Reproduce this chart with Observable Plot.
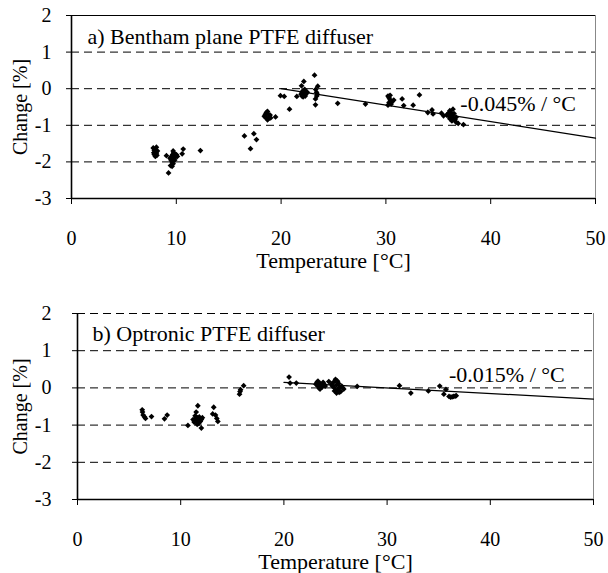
<!DOCTYPE html>
<html><head><meta charset="utf-8">
<script src="https://cdn.jsdelivr.net/npm/d3@7"></script>
<script src="https://cdn.jsdelivr.net/npm/@observablehq/plot@0.6"></script>
<style>body{margin:0;background:#fff}#chart{width:608px}#chart svg{display:block}</style>
</head><body><div id="chart"></div>
<script>
const xTicks = [0, 10, 20, 30, 40, 50];
const yTicks = [-3, -2, -1, 0, 1, 2];
const gridValues = [-2, -1, 0, 1];
const xLabel = "Temperature [°C]";
const yLabel = "Change [%]";
const titleA = "a) Bentham plane PTFE diffuser";
const titleB = "b) Optronic PTFE diffuser";
const slopeA = "-0.045% / °C";
const slopeB = "-0.015% / °C";

const tempA = [7.8,7.9,8.0,8.1,7.9,8.0,8.2,8.1,7.85,8.05,8.15, 9.06,9.26,
  9.4,9.5,9.6,9.7,9.55,9.65,9.75,9.8,9.9,10.0,9.45,9.6,9.7,9.85,10.1,
  10.56,10.66,12.3, 16.5,17.08,17.4,17.65,
  18.5,18.6,18.7,18.8,18.9,18.6,18.7,18.5,18.8,18.95,18.4,19.0,
  19.47,19.94,20.3,20.8,21.5,21.95,22.17,
  21.9,22.0,22.1,22.2,22.3,22.4,22.1,22.25,22.0,22.35,22.5,
  23.19,23.5,23.38,23.28,23.28,23.4,23.3,23.45,25.4,28.05,
  30.2,30.3,30.4,30.3,30.5,30.2,30.4,30.6,
  30.75,31.55,31.7,32.6,33.2,34.0,34.4,34.5,35.3,35.5,
  35.9,36.0,36.1,36.2,36.3,36.4,36.1,36.5,36.6,36.3,36.0,36.2,36.7,35.8,36.4,
  36.9,37.4,36.7];
const changeA = [-1.62,-1.68,-1.72,-1.76,-1.80,-1.85,-1.70,-1.60,-1.75,-1.78,-1.82, -1.83,-2.3,
  -1.9,-1.95,-2.0,-2.05,-1.85,-1.8,-1.75,-1.9,-1.85,-1.8,-2.1,-2.12,-1.7,-1.95,-1.85,
  -1.78,-1.65,-1.69, -1.29,-1.64,-1.23,-1.39,
  -0.7,-0.65,-0.62,-0.7,-0.78,-0.8,-0.85,-0.78,-0.82,-0.72,-0.75,-0.8,
  -0.77,-0.19,-0.21,-0.56,-0.21,0.08,0.2,
  -0.15,-0.1,-0.05,-0.12,-0.2,-0.08,-0.22,-0.02,-0.2,-0.15,-0.1,
  0.37,0.07,-0.1,-0.28,-0.44,-0.2,-0.02,-0.15,-0.4,-0.42,
  -0.2,-0.25,-0.3,-0.38,-0.42,-0.45,-0.18,-0.35,
  -0.31,-0.28,-0.46,-0.45,-0.17,-0.65,-0.58,-0.69,-0.67,-0.74,
  -0.7,-0.75,-0.6,-0.65,-0.72,-0.8,-0.82,-0.68,-0.85,-0.88,-0.66,-0.78,-0.78,-0.72,-0.56,
  -0.95,-0.98,-0.92];

const tempB = [6.27,6.3,6.36,6.5,6.59,7.17,8.43,8.69,10.7,
  11.66,11.5,11.4,11.6,11.7,11.5,11.8,11.9,11.3,11.6,12.0,12.1,11.45,11.75,12.0,11.2,
  13.2,13.37,13.5,13.6,13.1, 15.7,15.75,15.8,16.1, 20.5,20.6,21.2,
  23.1,23.2,23.3,23.4,23.5,23.6,23.7,23.8,23.3,23.9,24.0,23.5,24.35,
  24.6,24.7,24.8,24.9,25.0,25.1,25.2,25.3,25.4,25.5,25.6,25.0,25.2,24.9,25.35,25.7,25.8,25.1,
  27.1,31.2,32.3,34.0,35.1,35.7,35.5,
  36.0,36.15,36.3,36.45,36.6,36.7];
const changeB = [-0.59,-0.65,-0.73,-0.78,-0.82,-0.77,-0.83,-0.73,-1.01,
  -0.48,-0.65,-0.75,-0.8,-0.85,-0.9,-0.78,-0.9,-0.92,-0.98,-0.85,-0.8,-0.82,-0.95,-1.08,-0.85,
  -0.52,-0.73,-0.82,-0.9,-0.7, -0.17,-0.1,-0.05,0.06, 0.29,0.13,0.13,
  0.1,0.15,0.05,0.0,0.12,0.08,0.02,0.15,0.18,0.1,0.05,-0.03,0.17,
  0.1,0.05,0.15,0.0,0.2,0.08,-0.05,0.12,0.02,-0.1,0.05,0.23,0.18,-0.08,-0.12,0.0,-0.03,-0.14,
  0.04,0.06,-0.14,-0.08,0.05,-0.04,-0.17,
  -0.23,-0.25,-0.24,-0.23,-0.22,-0.21];

const fitTempA = [20, 50], fitChangeA = [0, -1.35];
const fitTempB = [20, 50], fitChangeB = [0.15, -0.3];

const FONT = "'Liberation Serif', 'Times New Roman', serif";

function panel(o) {
  const pts = o.temp.map((t, i) => ({t, c: o.change[i]}));
  const fit = o.fitT.map((t, i) => ({t, c: o.fitC[i]}));
  return Plot.plot({
    width: 608, height: o.height,
    marginLeft: o.ml, marginRight: o.mr, marginTop: o.mt, marginBottom: o.mb,
    style: {fontFamily: FONT, fontSize: "20px", color: "black", background: "white", overflow: "visible"},
    x: {domain: [0, 50]},
    y: {domain: [-3, 2]},
    marks: [
      Plot.ruleY(gridValues.concat(o.dashedTop ? [2] : []), {stroke: "black", strokeWidth: 1, strokeDasharray: "8,5"}),
      o.dashedTop ? null : Plot.ruleY([2], {stroke: "black", strokeWidth: 1}),
      Plot.ruleX([50], {stroke: "#888", strokeWidth: 1}),
      Plot.axisX({ticks: xTicks, tickSize: 6, tickPadding: 26, tickFormat: d => String(d), label: null, fontSize: 20}),
      Plot.axisY({ticks: yTicks, tickSize: 5, tickPadding: o.ypad, tickFormat: d => String(d), label: null, fontSize: 20}),
      Plot.ruleX([0], {stroke: "black", strokeWidth: 1.6}),
      Plot.ruleY([-3], {stroke: "black", strokeWidth: 1.6}),
      Plot.line(fit, {x: "t", y: "c", stroke: "black", strokeWidth: 1.2}),
      Plot.dot(pts, {x: "t", y: "c", symbol: "diamond2", r: 2.6, fill: "black", stroke: "none"}),
      Plot.text([o.title], {frameAnchor: "top-left", dx: o.tdx, dy: o.tdy, text: d => d, textAnchor: "start", lineAnchor: "middle", fontSize: 22}),
      Plot.text([o.slope], {x: o.sx, y: o.sy, text: d => d, textAnchor: "start", lineAnchor: "middle", fontSize: 22, fill: "black"}),
      Plot.text([xLabel], {frameAnchor: "bottom", dy: 62, text: d => d, lineAnchor: "middle", fontSize: 22}),
      Plot.text([yLabel], {frameAnchor: "left", dx: o.ydx, rotate: -90, text: d => d, lineAnchor: "middle", textAnchor: "middle", fontSize: 20})
    ].filter(Boolean)
  });
}

const chart = document.getElementById("chart");
chart.appendChild(panel({
  temp: tempA, change: changeA, fitT: fitTempA, fitC: fitChangeA,
  height: 296, ml: 71, mr: 13, mt: 15, mb: 98, ypad: 15, ydx: -51,
  title: titleA, tdx: 16, tdy: 21, slope: slopeA, sx: 37.1, sy: -0.41, dashedTop: false
}));
chart.appendChild(panel({
  temp: tempB, change: changeB, fitT: fitTempB, fitC: fitChangeB,
  height: 277, ml: 77, mr: 15, mt: 17, mb: 74, ypad: 21, ydx: -57,
  title: titleB, tdx: 15, tdy: 20, slope: slopeB, sx: 36, sy: 0.35, dashedTop: true
}));
</script>
</body></html>
